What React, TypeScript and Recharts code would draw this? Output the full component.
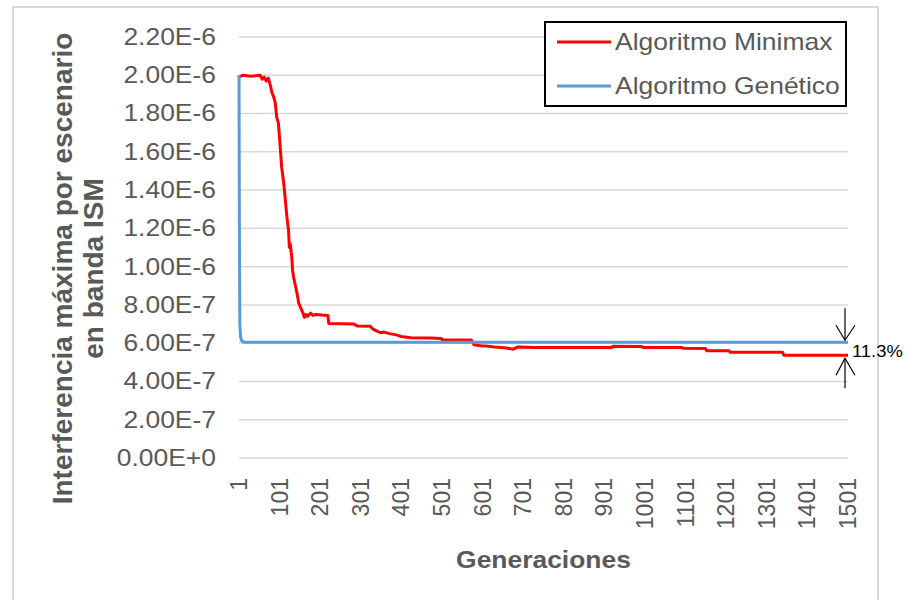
import React from 'react';
import {
  LineChart,
  Line,
  XAxis,
  YAxis,
  CartesianGrid,
  ReferenceDot,
} from 'recharts';

const FONT = '"Liberation Sans", Arial, sans-serif';
const TEXT_GREY = '#595959';
const STRETCH = 1.15;

const minimaxName = 'Algoritmo Minimax';
const geneticName = 'Algoritmo Genético';
const minimaxColor = '#ff0000';
const geneticColor = '#5b9bd5';

// generation numbers and max interference
const minimaxGen = [
  1, 10, 30, 53, 58, 63, 68, 73, 78, 82, 86, 90, 94, 98, 102, 106, 111, 115,
  119, 123, 125, 127, 131, 133, 135, 140, 144, 148, 152, 158, 162, 166, 170,
  177, 183, 190, 205, 220, 222, 284, 292, 325, 330, 342, 350, 358, 372, 391,
  400, 424, 474, 499, 502, 573, 580, 597, 610, 630, 647, 660, 676, 680, 688,
  729, 919, 922, 993, 996, 1092, 1095, 1150, 1153, 1208, 1211, 1340, 1343, 1501,
];
const minimaxVal = [
  19.9e-7, 20.0e-7, 19.95e-7, 20.0e-7, 19.8e-7, 19.9e-7, 19.7e-7, 19.85e-7,
  19.5e-7, 19.1e-7, 18.9e-7, 18.6e-7, 17.8e-7, 17.5e-7, 16.4e-7, 15.2e-7,
  14.4e-7, 13.5e-7, 12.6e-7, 11.9e-7, 11.0e-7, 11.2e-7, 10.5e-7, 9.8e-7,
  9.5e-7, 9.0e-7, 8.6e-7, 8.1e-7, 7.9e-7, 7.6e-7, 7.35e-7, 7.5e-7, 7.4e-7,
  7.57e-7, 7.45e-7, 7.5e-7, 7.47e-7, 7.45e-7, 7.03e-7, 7.0e-7, 6.9e-7,
  6.88e-7, 6.75e-7, 6.62e-7, 6.55e-7, 6.58e-7, 6.5e-7, 6.42e-7, 6.35e-7,
  6.28e-7, 6.27e-7, 6.25e-7, 6.16e-7, 6.17e-7, 5.92e-7, 5.87e-7, 5.85e-7,
  5.8e-7, 5.78e-7, 5.75e-7, 5.68e-7, 5.73e-7, 5.8e-7, 5.77e-7, 5.77e-7,
  5.84e-7, 5.83e-7, 5.78e-7, 5.77e-7, 5.73e-7, 5.72e-7, 5.6e-7, 5.6e-7,
  5.52e-7, 5.52e-7, 5.37e-7, 5.37e-7,
];

const geneticGen = [1, 2, 3, 5, 8, 14, 1501];
const geneticVal = [20.0e-7, 12.0e-7, 7.0e-7, 6.3e-7, 6.12e-7, 6.05e-7, 6.05e-7];

const xTicks = [
  1, 101, 201, 301, 401, 501, 601, 701, 801, 901, 1001, 1101, 1201, 1301,
  1401, 1501,
];
const yTicks = [
  0, 2e-7, 4e-7, 6e-7, 8e-7, 1e-6, 1.2e-6, 1.4e-6, 1.6e-6, 1.8e-6, 2e-6,
  2.2e-6,
];
const gapLabel = '11.3%';

const minimaxData = minimaxGen.map((g, i) => ({ gen: g, value: minimaxVal[i] }));
const geneticData = geneticGen.map((g, i) => ({ gen: g, value: geneticVal[i] }));

const fmtSci = (v: number) => v.toExponential(2).toUpperCase();

const YTick = (props: any) => {
  const { x, y, payload } = props;
  return (
    <text
      transform={`translate(${x},${y}) scale(${STRETCH},1)`}
      textAnchor="end"
      dominantBaseline="central"
      fontFamily={FONT}
      fontSize={23}
      fill={TEXT_GREY}
    >
      {fmtSci(payload.value)}
    </text>
  );
};

const XTick = (props: any) => {
  const { x, y, payload } = props;
  return (
    <text
      transform={`translate(${x},${y}) rotate(-90)`}
      textAnchor="end"
      dominantBaseline="central"
      fontFamily={FONT}
      fontSize={23}
      fill={TEXT_GREY}
    >
      {payload.value}
    </text>
  );
};

const XTitle = (props: any) => {
  const { viewBox } = props;
  const cx = viewBox.x + viewBox.width / 2;
  const cy = viewBox.y + 102;
  return (
    <text
      transform={`translate(${cx},${cy}) scale(${STRETCH},1)`}
      textAnchor="middle"
      dominantBaseline="central"
      fontFamily={FONT}
      fontWeight="bold"
      fontSize={23}
      fill={TEXT_GREY}
    >
      Generaciones
    </text>
  );
};

const YTitle = (props: any) => {
  const { viewBox } = props;
  const cy = viewBox.y + viewBox.height / 2 + 21;
  return (
    <g fontFamily={FONT} fontWeight="bold" fontSize={28} fill={TEXT_GREY}>
      <text
        transform={`translate(62,${cy}) rotate(-90)`}
        textAnchor="middle"
        dominantBaseline="central"
      >
        Interferencia máxima por escenario
      </text>
      <text
        transform={`translate(93,${cy}) rotate(-90)`}
        textAnchor="middle"
        dominantBaseline="central"
      >
        en banda ISM
      </text>
    </g>
  );
};

// arrow pointing down onto the genetic line end
const DownArrow = (props: any) => {
  const { cx, cy } = props;
  const x = cx - 3;
  return (
    <g stroke="#000" strokeWidth={1.2} fill="none">
      <line x1={x} y1={cy - 34} x2={x} y2={cy - 2} />
      <polyline points={`${x - 9},${cy - 17} ${x},${cy - 2} ${x + 10},${cy - 17}`} />
    </g>
  );
};

// arrow pointing up to the minimax line end, with the gap label
const UpArrow = (props: any) => {
  const { cx, cy } = props;
  const x = cx - 3;
  return (
    <g>
      <g stroke="#000" strokeWidth={1.2} fill="none">
        <line x1={x} y1={cy + 33} x2={x} y2={cy + 3} />
        <polyline points={`${x - 9},${cy + 20} ${x},${cy + 3} ${x + 10},${cy + 20}`} />
      </g>
      <text
        transform={`translate(${cx + 4},${cy - 4}) scale(${STRETCH},1)`}
        dominantBaseline="central"
        fontFamily={FONT}
        fontSize={16}
        fill="#000"
      >
        {gapLabel}
      </text>
    </g>
  );
};

const LegendBox = () => (
  <div
    style={{
      position: 'absolute',
      left: 544,
      top: 21,
      width: 299,
      height: 82,
      border: '2px solid #000',
      background: '#fff',
    }}
  >
    <svg width={299} height={82}>
      {[
        { name: minimaxName, color: minimaxColor, y: 19 },
        { name: geneticName, color: geneticColor, y: 63 },
      ].map((it) => (
        <g key={it.name}>
          <line x1={11} x2={65} y1={it.y} y2={it.y} stroke={it.color} strokeWidth={3} />
          <text
            transform={`translate(69,${it.y}) scale(${STRETCH},1)`}
            dominantBaseline="central"
            fontFamily={FONT}
            fontSize={23}
            fill={TEXT_GREY}
          >
            {it.name}
          </text>
        </g>
      ))}
    </svg>
  </div>
);

export default function App() {
  const lastGenetic = geneticData[geneticData.length - 1];
  const lastMinimax = minimaxData[minimaxData.length - 1];
  return (
    <div
      style={{
        position: 'absolute',
        left: 0,
        top: 0,
        width: 914,
        height: 600,
        background: '#fff',
        overflow: 'hidden',
      }}
    >
      <div
        style={{
          position: 'absolute',
          left: 12,
          top: 6,
          width: 863,
          height: 620,
          border: '2px solid #d9d9d9',
        }}
      />
      <div style={{ position: 'absolute', left: 0, top: 0 }}>
        <LineChart
          width={914}
          height={600}
          margin={{ top: 37, right: 66, bottom: 0, left: 0 }}
        >
          <CartesianGrid vertical={false} stroke="#d9d9d9" strokeWidth={1.5} />
          <XAxis
            dataKey="gen"
            type="number"
            domain={[1, 1501]}
            ticks={xTicks}
            interval={0}
            height={142}
            axisLine={false}
            tickLine={false}
            tickSize={0}
            tickMargin={20}
            tick={<XTick />}
            label={(p: any) => <XTitle {...p} />}
          />
          <YAxis
            type="number"
            domain={[0, 2.2e-6]}
            ticks={yTicks}
            interval={0}
            width={239}
            axisLine={false}
            tickLine={false}
            tickSize={0}
            tickMargin={23}
            tick={<YTick />}
            label={(p: any) => <YTitle {...p} />}
          />
          <Line
            data={minimaxData}
            dataKey="value"
            name={minimaxName}
            stroke={minimaxColor}
            strokeWidth={3}
            dot={false}
            activeDot={false}
            isAnimationActive={false}
            strokeLinejoin="round"
          />
          <Line
            data={geneticData}
            dataKey="value"
            name={geneticName}
            stroke={geneticColor}
            strokeWidth={3}
            dot={false}
            activeDot={false}
            isAnimationActive={false}
            strokeLinejoin="round"
          />
          <ReferenceDot
            x={lastGenetic.gen}
            y={lastGenetic.value}
            ifOverflow="visible"
            shape={(p: any) => <DownArrow {...p} />}
          />
          <ReferenceDot
            x={lastMinimax.gen}
            y={lastMinimax.value}
            ifOverflow="visible"
            shape={(p: any) => <UpArrow {...p} />}
          />
        </LineChart>
      </div>
      <LegendBox />
    </div>
  );
}
